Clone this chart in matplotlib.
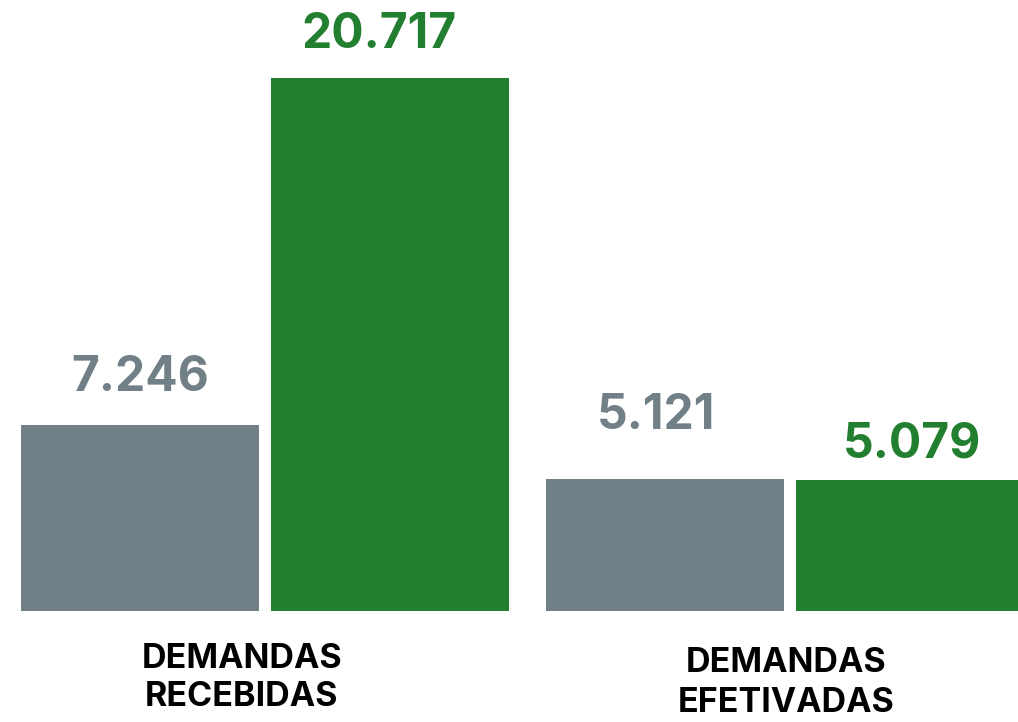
import matplotlib
matplotlib.use("Agg")
import matplotlib.pyplot as plt
import matplotlib.transforms as mtransforms

categories = ["DEMANDAS\nRECEBIDAS", "DEMANDAS\nEFETIVADAS"]
values_a = [7246, 5121]
values_b = [20717, 5079]
labels_a = ["7.246", "5.121"]
labels_b = ["20.717", "5.079"]

gray = "#717f87"
green = "#237f30"

plt.rcParams['font.family'] = ['Inter', 'DejaVu Sans']

fig = plt.figure(figsize=(10.18, 7.22), dpi=100)
ax = fig.add_axes([0, 111 / 722, 1, 611 / 722])

group_x = [0, 2.1]
width = 0.95
xa = [g for g in group_x]
xb = [g + 1 for g in group_x]

ax.bar(xa, values_a, width=width, color=gray)
ax.bar(xb, values_b, width=width, color=green)

ax.set_xlim(-0.559, -0.559 + 1018 / 250)
ax.set_ylim(0, 611 * 20717 / 533)
ax.axis("off")

# value labels, offsets in points above each bar
off_a = [(0, 33.7), (-6, 45.2)]
off_b = [(-8, 30.8), (-2, 26)]
for x, v, t, o in zip(xa, values_a, labels_a, off_a):
    ax.annotate(t, (x, v), xytext=o, textcoords="offset points",
                ha="center", va="center", fontsize=34.5, fontweight="bold",
                color=gray)
for x, v, t, o in zip(xb, values_b, labels_b, off_b):
    ax.annotate(t, (x, v), xytext=o, textcoords="offset points",
                ha="center", va="center", fontsize=34.5, fontweight="bold",
                color=green)

# category labels below the axis
trans = mtransforms.blended_transform_factory(ax.transData, fig.transFigure)
cat_x = [0.5 - 0.092, 2.6 - 0.016]
cat_y = [1 - 678 / 722, 1 - 683 / 722]
for x, y, c in zip(cat_x, cat_y, categories):
    ax.text(x, y, c, transform=trans, ha="center", va="center",
            fontsize=24.5, fontweight="bold", color="black",
            linespacing=1.28, clip_on=False)

fig.savefig("out.png", dpi=100)
